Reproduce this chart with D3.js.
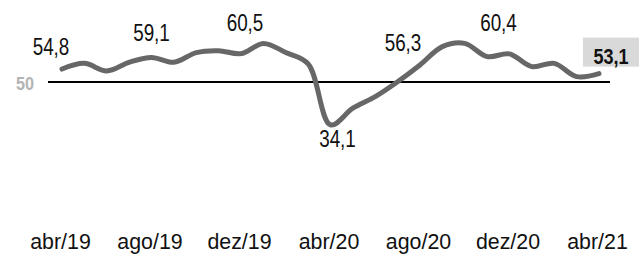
<!DOCTYPE html>
<html>
<head>
<meta charset="utf-8">
<script src="https://cdn.jsdelivr.net/npm/d3@7"></script>
<style>
body { margin: 0; background: #fff; }
svg { display: block; }
</style>
</head>
<body>
<script>
var width = 639, height = 254;

// monthly values, abr/19 .. abr/21
var months = ["abr/19","mai/19","jun/19","jul/19","ago/19","set/19","out/19","nov/19","dez/19",
              "jan/20","fev/20","mar/20","abr/20","mai/20","jun/20","jul/20","ago/20","set/20",
              "out/20","nov/20","dez/20","jan/21","fev/21","mar/21","abr/21"];
var values = [54.8, 56.9, 54.1, 57.3, 59.1, 57.3, 60.9, 61.6, 60.5,
              64.3, 60.9, 56.7, 34.1, 40.3, 44.6, 50.1, 56.3, 63.1,
              64.3, 59.4, 60.4, 55.7, 56.9, 52.0, 53.1];
var tickLabels = ["abr/19","ago/19","dez/19","abr/20","ago/20","dez/20","abr/21"];
var labelled = [0, 4, 8, 12, 16, 20];
var refValue = 50;

// label placement (layout only)
var labelNudge = [[-11,-14],[0,-16],[4,-23],[7,22],[-17,-14],[-11,-23]];

var fmt = function(v){ return d3.format(".1f")(v).replace(".", ","); };
var narrow = 0.82; // squeeze to mimic a condensed face

var x = d3.scalePoint().domain(months).range([62, 599]);
var y = d3.scaleLinear().domain([30, 70]).range([136, 28]);

var svg = d3.select("body").append("svg").attr("width", width).attr("height", height);

// reference line at 50
svg.append("line")
    .attr("x1", 48).attr("x2", 610)
    .attr("y1", y(refValue)).attr("y2", y(refValue))
    .attr("stroke", "#000").attr("stroke-width", 2);

svg.append("text")
    .attr("transform", "translate(34," + (y(refValue) + 8) + ") scale(0.9,1)")
    .attr("text-anchor", "end")
    .attr("font-family", "Liberation Sans, Arial, sans-serif")
    .attr("font-weight", "bold")
    .attr("font-size", 18)
    .attr("fill", "#b3b3b3")
    .text(refValue);

var line = d3.line()
    .x(function(d, i){ return x(months[i]); })
    .y(function(d){ return y(d); })
    .curve(d3.curveCatmullRom);

svg.append("path")
    .datum(values)
    .attr("d", line)
    .attr("fill", "none")
    .attr("stroke", "#676767")
    .attr("stroke-width", 5)
    .attr("stroke-linecap", "round")
    .attr("stroke-linejoin", "round");

// value labels
svg.append("g").selectAll("text")
    .data(labelled)
    .enter().append("text")
        .attr("transform", function(d, i){
            var tx = x(months[d]) + labelNudge[i][0];
            var ty = y(values[d]) + labelNudge[i][1];
            return "translate(" + tx + "," + ty + ") scale(" + narrow + ",1)";
        })
        .attr("text-anchor", "middle")
        .attr("font-family", "Liberation Sans, Arial, sans-serif")
        .attr("font-size", 23)
        .attr("fill", "#111")
        .text(function(d){ return fmt(values[d]); });

// last value box
var last = values.length - 1;
var lx = x(months[last]), ly = y(values[last]);
svg.append("rect")
    .attr("x", lx - 16).attr("y", ly - 36)
    .attr("width", width - (lx - 16)).attr("height", 29)
    .attr("fill", "#d9d9d9");
svg.append("text")
    .attr("transform", "translate(" + (lx + 12) + "," + (ly - 9.5) + ") scale(" + narrow + ",1)")
    .attr("text-anchor", "middle")
    .attr("font-family", "Liberation Sans, Arial, sans-serif")
    .attr("font-weight", "bold")
    .attr("font-size", 22)
    .attr("fill", "#111")
    .text(fmt(values[last]));

// month axis
var axis = d3.axisBottom(x).tickValues(tickLabels).tickSize(0).tickPadding(0);
var gx = svg.append("g").attr("transform", "translate(-2,249)").call(axis);
gx.select(".domain").remove();
gx.selectAll("text")
    .attr("font-family", "Liberation Sans, Arial, sans-serif")
    .attr("font-size", 23)
    .attr("fill", "#111")
    .attr("y", 0)
    .attr("dy", 0)
    .attr("transform", "scale(0.93,1)")
    .attr("transform-origin", "0 0");
</script>
</body>
</html>
